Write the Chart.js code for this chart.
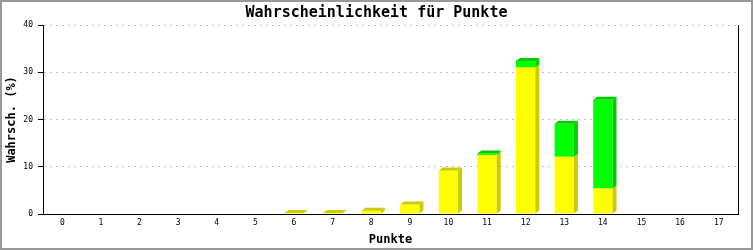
<!DOCTYPE html>
<html>
<head>
<meta charset="utf-8">
<script src="https://cdn.jsdelivr.net/npm/chart.js@4/dist/chart.umd.min.js"></script>
<style>
  html, body { margin: 0; padding: 0; background: #fff; }
  canvas { display: block; }
</style>
</head>
<body>
<canvas id="chart" width="753" height="250"></canvas>
<script>
const punkte = ['0','1','2','3','4','5','6','7','8','9','10','11','12','13','14','15','16','17'];
const gelb  = [0, 0, 0, 0, 0, 0, 0.2, 0.2, 0.7, 2.0, 9.2, 12.5, 31.0, 12.1, 5.4, 0, 0, 0];
const gruen = [0, 0, 0, 0, 0, 0, 0,   0,   0,   0,   0,   0.3,  1.4,  7.0, 18.8, 0, 0, 0];
const yTicks = [0, 10, 20, 30, 40];

const mono = '"DejaVu Sans Mono", "Liberation Mono", monospace';
const sideColors = ['#cccc00', '#00cc00'];

// weisser Hintergrund + grauer Rahmen
const frame = {
  id: 'frame',
  beforeDraw(chart) {
    const c = chart.ctx;
    c.save();
    c.fillStyle = '#fff';
    c.fillRect(0, 0, chart.width, chart.height);
    c.restore();
  },
  afterDraw(chart) {
    const c = chart.ctx;
    c.save();
    c.strokeStyle = '#999';
    c.lineWidth = 2;
    c.strokeRect(1, 1, chart.width - 2, chart.height - 2);
    c.restore();
  }
};

// 3D-Effekt: Seitenflaeche und Deckel
const depth = {
  id: 'depth',
  afterDatasetsDraw(chart) {
    const c = chart.ctx;
    const dx = 4, dy = 3;
    const metas = chart.data.datasets.map((d, i) => chart.getDatasetMeta(i));
    c.save();
    metas.forEach((meta, di) => {
      meta.data.forEach((el, idx) => {
        const p = el.getProps(['x', 'y', 'base', 'width'], true);
        if (Math.abs(p.base - p.y) < 0.01) return;
        const r = p.x + p.width / 2;
        const l = p.x - p.width / 2;
        c.fillStyle = sideColors[di];
        c.beginPath();
        c.moveTo(r, p.y);
        c.lineTo(r + dx, p.y - dy);
        c.lineTo(r + dx, p.base - dy);
        c.lineTo(r, p.base);
        c.closePath();
        c.fill();
        // Deckel nur beim obersten Segment
        let top = true;
        for (let k = di + 1; k < metas.length; k++) {
          if (chart.data.datasets[k].data[idx] > 0) top = false;
        }
        if (top) {
          c.beginPath();
          c.moveTo(l, p.y);
          c.lineTo(l + dx, p.y - dy);
          c.lineTo(r + dx, p.y - dy);
          c.lineTo(r, p.y);
          c.closePath();
          c.fill();
        }
      });
    });
    c.restore();
  }
};

new Chart(document.getElementById('chart').getContext('2d'), {
  type: 'bar',
  data: {
    labels: punkte,
    datasets: [
      { label: 'gelb', data: gelb, backgroundColor: '#ffff00', borderWidth: 0 },
      { label: 'gruen', data: gruen, backgroundColor: '#00ff00', borderWidth: 0 }
    ]
  },
  options: {
    responsive: false,
    animation: false,
    layout: { padding: 0 },
    datasets: { bar: { categoryPercentage: 1, barPercentage: 0.5 } },
    plugins: {
      legend: { display: false },
      tooltip: { enabled: false },
      title: {
        display: true,
        text: 'Wahrscheinlichkeit für Punkte',
        color: '#000',
        font: { family: mono, size: 15, weight: 'bold', lineHeight: 1.2 },
        padding: { top: 4, bottom: 3 }
      }
    },
    scales: {
      x: {
        stacked: true,
        offset: true,
        grid: { display: false, drawTicks: false },
        border: { display: true, color: '#000', width: 1 },
        ticks: { color: '#000', font: { family: mono, size: 8 }, padding: 4, maxRotation: 0, autoSkip: false },
        title: {
          display: true, text: 'Punkte', color: '#000',
          font: { family: mono, size: 12, weight: 'bold', lineHeight: 1.2 },
          padding: { top: 3, bottom: 3 }
        },
        afterFit(s) { s.height = 36; }
      },
      y: {
        stacked: true,
        min: 0,
        max: 40,
        afterBuildTicks(s) { s.ticks = yTicks.map(v => ({ value: v })); },
        grid: {
          color: '#c0c0c0', tickColor: '#000', tickLength: 5, tickBorderDash: [],
          lineWidth: 1
        },
        border: { display: true, color: '#000', width: 1, dash: [2, 4] },
        ticks: { color: '#000', font: { family: mono, size: 8 }, padding: 5 },
        title: {
          display: true, text: 'Wahrsch. (%)', color: '#000',
          font: { family: mono, size: 12, weight: 'bold', lineHeight: 1.2 },
          padding: { top: 5, bottom: 5 }
        },
        afterFit(s) { s.width = 43; }
      },
      yRechts: {
        position: 'right',
        min: 0,
        max: 40,
        grid: { display: false, drawTicks: false },
        border: { display: true, color: '#000', width: 1 },
        ticks: { display: false },
        afterFit(s) { s.width = 15; }
      }
    }
  },
  plugins: [frame, depth]
});
</script>
</body>
</html>
